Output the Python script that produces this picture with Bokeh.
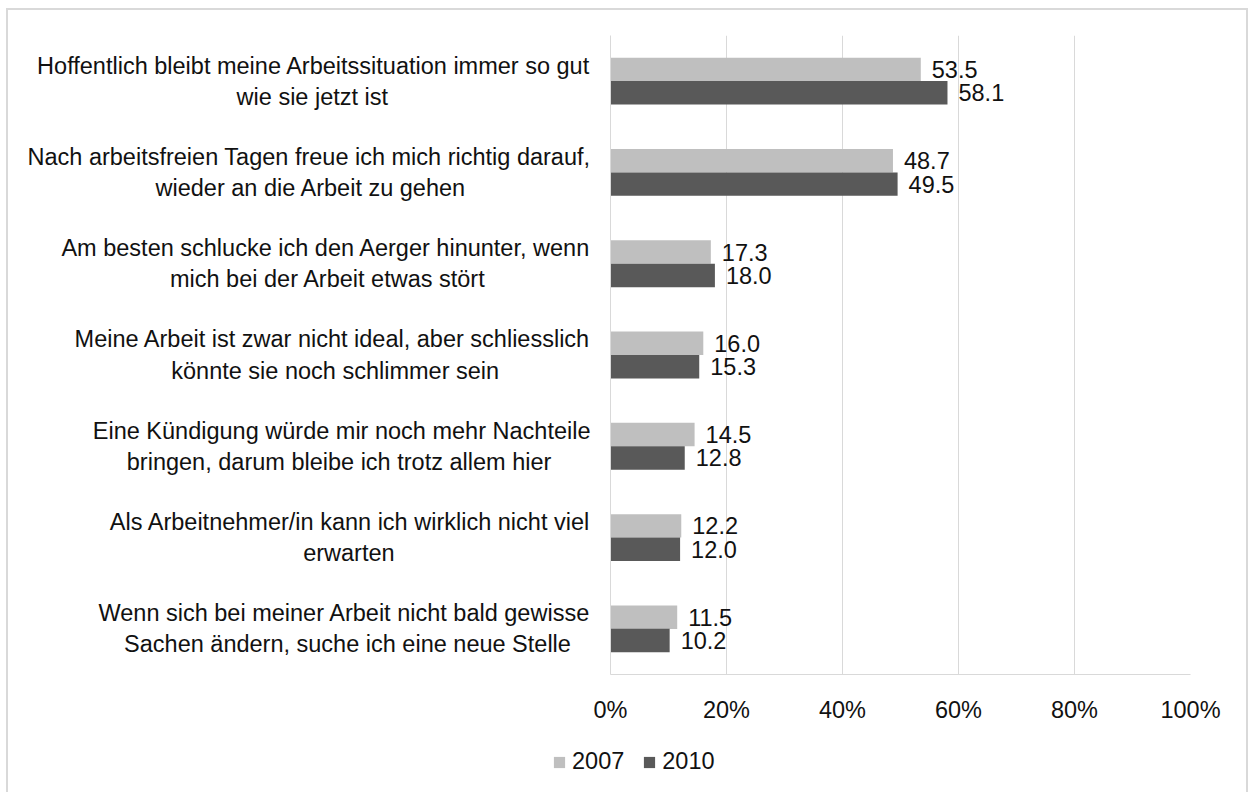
from bokeh.plotting import figure
from bokeh.models import Range1d, FactorRange, FixedTicker, Legend, LegendItem, ColumnDataSource
from bokeh.transform import dodge
from bokeh.embed import file_html
from bokeh.resources import INLINE
from bokeh.core.properties import value

categories = [
    "Hoffentlich bleibt meine Arbeitssituation immer so gut\nwie sie jetzt ist",
    "Nach arbeitsfreien Tagen freue ich mich richtig darauf,\nwieder an die Arbeit zu gehen",
    "Am besten schlucke ich den Aerger hinunter, wenn\nmich bei der Arbeit etwas stört",
    "Meine Arbeit ist zwar nicht ideal, aber schliesslich\nkönnte sie noch schlimmer sein",
    "Eine Kündigung würde mir noch mehr Nachteile\nbringen, darum bleibe ich trotz allem hier",
    "Als Arbeitnehmer/in kann ich wirklich nicht viel\nerwarten",
    "Wenn sich bei meiner Arbeit nicht bald gewisse\nSachen ändern, suche ich eine neue Stelle",
]
values_2007 = [53.5, 48.7, 17.3, 16.0, 14.5, 12.2, 11.5]
values_2010 = [58.1, 49.5, 18.0, 15.3, 12.8, 12.0, 10.2]
series_names = ["2007", "2010"]
x_ticks = [0, 20, 40, 60, 80, 100]
x_tick_labels = ["0%", "20%", "40%", "60%", "80%", "100%"]

FONT = "Liberation Sans"
FS = "23.5px"
C_LIGHT = "#BFBFBF"
C_DARK = "#595959"
GRID = "#D9D9D9"
TXT = "#111111"
EDGE = "2px solid #D9D9D9"

# Liberation Sans (Arial-compatible) advance widths, used only to centre the
# lines of each two-line category label inside its right-aligned block.
_W = {' ': 278, '\u00a0': 278, ',': 278, '.': 278, '/': 278,
      'a': 556, 'b': 556, 'c': 500, 'd': 556, 'e': 556, 'f': 278, 'g': 556, 'h': 556,
      'i': 222, 'j': 222, 'k': 500, 'l': 222, 'm': 833, 'n': 556, 'o': 556, 'p': 556,
      'q': 556, 'r': 333, 's': 500, 't': 278, 'u': 556, 'v': 500, 'w': 722, 'x': 500,
      'y': 500, 'z': 500, 'ä': 556, 'ö': 556, 'ü': 556,
      'A': 667, 'B': 667, 'C': 722, 'D': 722, 'E': 667, 'F': 611, 'G': 778, 'H': 722,
      'I': 278, 'J': 500, 'K': 667, 'L': 556, 'M': 833, 'N': 722, 'O': 778, 'P': 667,
      'Q': 778, 'R': 722, 'S': 667, 'T': 611, 'U': 722, 'V': 667, 'W': 944, 'X': 667,
      'Y': 667, 'Z': 611}


def _width(s):
    return sum(_W.get(ch, 556) for ch in s)


def centred(label):
    lines = label.split("\n")
    wmax = max(_width(l) for l in lines)
    out = []
    for l in lines:
        n = int(round((wmax - _width(l)) / 2 / 278))
        out.append(l + "\u00a0" * n)
    return "\n".join(out)


display_cats = [centred(c) for c in categories]

src = ColumnDataSource(dict(
    cat=display_cats,
    v07=values_2007,
    v10=values_2010,
    l07=[f"{v:.1f}" for v in values_2007],
    l10=[f"{v:.1f}" for v in values_2010],
))

p = figure(
    width=1242, height=720,
    y_range=FactorRange(factors=list(reversed(display_cats))),
    x_range=Range1d(0, 100),
    output_backend="svg", toolbar_location=None,
    min_border_left=602, min_border_right=60, min_border_top=25, min_border_bottom=56,
)
p.styles = {"border-top": EDGE, "border-left": EDGE, "border-right": EDGE,
            "margin-left": "6px", "margin-top": "8px"}
p.outline_line_color = None
p.background_fill_color = "white"
p.border_fill_color = "white"

bh = 0.257
r07 = p.hbar(y=dodge("cat", 0.128, range=p.y_range), right="v07", left=0, height=bh,
             source=src, fill_color=C_LIGHT, line_color=None)
r10 = p.hbar(y=dodge("cat", -0.128, range=p.y_range), right="v10", left=0, height=bh,
             source=src, fill_color=C_DARK, line_color=None)

p.text(x="v07", y=dodge("cat", 0.128, range=p.y_range), text="l07", source=src,
       x_offset=11, text_baseline="middle", text_align="left",
       text_font=value(FONT), text_font_size=FS, text_color=TXT)
p.text(x="v10", y=dodge("cat", -0.128, range=p.y_range), text="l10", source=src,
       x_offset=11, text_baseline="middle", text_align="left",
       text_font=value(FONT), text_font_size=FS, text_color=TXT)

# x axis
p.xaxis.ticker = FixedTicker(ticks=x_ticks)
p.xaxis.major_label_overrides = {t: l for t, l in zip(x_ticks, x_tick_labels)}
p.xaxis.axis_line_color = GRID
p.xaxis.major_tick_line_color = None
p.xaxis.minor_tick_line_color = None
p.xaxis.major_tick_out = 0
p.xaxis.major_tick_in = 0
p.xaxis.major_label_standoff = 22
p.xaxis.major_label_text_font = FONT
p.xaxis.major_label_text_font_size = FS
p.xaxis.major_label_text_color = TXT

# y axis
p.yaxis.axis_line_color = GRID
p.yaxis.major_tick_line_color = None
p.yaxis.minor_tick_line_color = None
p.yaxis.major_tick_out = 0
p.yaxis.major_tick_in = 0
p.yaxis.major_label_standoff = 20
p.yaxis.major_label_text_font = FONT
p.yaxis.major_label_text_font_size = FS
p.yaxis.major_label_text_color = TXT
p.yaxis.major_label_text_line_height = 1.2

p.xgrid.ticker = FixedTicker(ticks=x_ticks)
p.xgrid.grid_line_color = GRID
p.ygrid.grid_line_color = None

# legend strip below the chart (separate root, so its frame spans the full width)
pl = figure(width=1242, height=64, x_range=Range1d(0, 1), y_range=Range1d(0, 1),
            output_backend="svg", toolbar_location=None,
            x_axis_location=None, y_axis_location=None, min_border=0)
pl.styles = {"border-left": EDGE, "border-right": EDGE, "margin-left": "6px"}
pl.grid.visible = False
pl.outline_line_color = None
pl.background_fill_color = "white"
pl.border_fill_color = "white"
# zero-size proxies of the two series (only their legend swatches are seen)
g07 = pl.hbar(y="v07", right=0, left=0, height=0, source=src,
              fill_color=C_LIGHT, line_color=None)
g10 = pl.hbar(y="v10", right=0, left=0, height=0, source=src,
              fill_color=C_DARK, line_color=None)
legend = Legend(items=[LegendItem(label=series_names[0], renderers=[g07]),
                       LegendItem(label=series_names[1], renderers=[g10])],
                orientation="horizontal", location=(544, 17),
                glyph_width=14, glyph_height=14, label_standoff=6, spacing=18,
                padding=0, margin=0, border_line_color=None, background_fill_alpha=0,
                label_text_font=FONT, label_text_font_size=FS, label_text_color=TXT)
pl.add_layout(legend)

open("out.html", "w").write(file_html([p, pl], INLINE))
